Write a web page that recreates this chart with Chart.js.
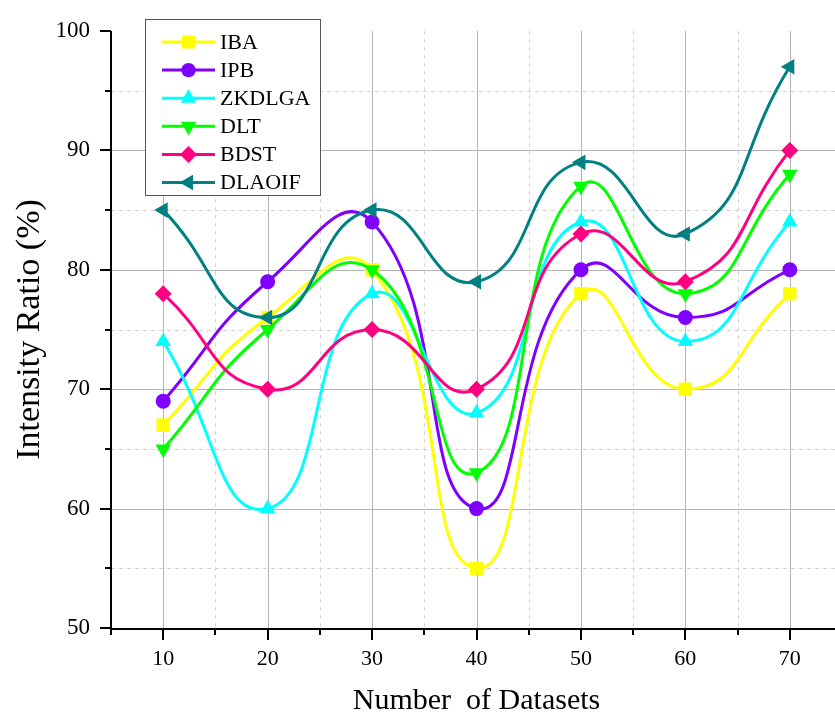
<!DOCTYPE html>
<html><head><meta charset="utf-8">
<script src="https://cdn.jsdelivr.net/npm/chart.js@4/dist/chart.umd.min.js"></script>
<style>
html,body{margin:0;padding:0;overflow:hidden;background:#fff;width:835px;height:716px}
#wrap{width:845px;height:716px;position:relative}
canvas{display:block}
</style></head>
<body><div id="wrap"><canvas id="c" width="845" height="716"></canvas></div>
<script>
// ---- data ----
const xValues = [10, 20, 30, 40, 50, 60, 70];
const seriesNames = ['IBA', 'IPB', 'ZKDLGA', 'DLT', 'BDST', 'DLAOIF'];
const IBA    = [67, 76, 80, 55, 78, 70, 78];
const IPB    = [69, 79, 84, 60, 80, 76, 80];
const ZKDLGA = [74, 60, 78, 68, 84, 74, 84];
const DLT    = [65, 75, 80, 63, 87, 78, 88];
const BDST   = [78, 70, 75, 70, 83, 79, 90];
const DLAOIF = [85, 76, 85, 79, 89, 83, 97];
const xTickLabels = [10, 20, 30, 40, 50, 60, 70];
const xMinorTicks = [5, 15, 25, 35, 45, 55, 65, 75];
const yTickLabels = [50, 60, 70, 80, 90, 100];
const yMinorTicks = [55, 65, 75, 85, 95];
const xTitle = 'Number  of Datasets';
const yTitle = 'Intensity Ratio (%)';

// ---- styles ----
const seriesValues = [IBA, IPB, ZKDLGA, DLT, BDST, DLAOIF];
const colors = ['#ffff00', '#8000ff', '#00ffff', '#00ff00', '#ff0080', '#008080'];
const shapes = ['rect', 'circle', 'triangle', 'triangleDown', 'rectRot', 'triangleLeft'];
const serif = "'Liberation Serif', 'Times New Roman', serif";

function pointStyleFor(s) {
  if (s === 'triangleDown' || s === 'triangleLeft') return 'triangle';
  return s;
}
function rotationFor(s) {
  if (s === 'triangleDown') return 180;
  if (s === 'triangleLeft') return -90;
  return 0;
}
function radiusFor(s) {
  if (s === 'rect') return 9.5;
  if (s === 'circle') return 7.5;
  if (s === 'rectRot') return 8.5;
  return 9;
}

const datasets = seriesNames.map((name, i) => ({
  label: name,
  data: xValues.map((x, j) => ({x: x, y: seriesValues[i][j]})),
  borderColor: colors[i],
  backgroundColor: colors[i],
  borderWidth: 3,
  pointStyle: pointStyleFor(shapes[i]),
  rotation: rotationFor(shapes[i]),
  pointRadius: radiusFor(shapes[i]),
  pointBorderWidth: 0,
  pointBackgroundColor: colors[i],
  pointBorderColor: colors[i],
  tension: 0.52,
  fill: false,
  order: seriesNames.length - i
}));

function drawMarker(ctx, shape, x, y, color) {
  ctx.save();
  ctx.fillStyle = color;
  ctx.beginPath();
  if (shape === 'rect') {
    ctx.rect(x - 6.5, y - 6.5, 13, 13);
  } else if (shape === 'circle') {
    ctx.arc(x, y, 7.2, 0, Math.PI * 2);
  } else if (shape === 'rectRot') {
    ctx.moveTo(x, y - 8.5); ctx.lineTo(x + 8.5, y); ctx.lineTo(x, y + 8.5); ctx.lineTo(x - 8.5, y);
  } else {
    const r = 9;
    let ang = -Math.PI / 2;
    if (shape === 'triangleDown') ang = Math.PI / 2;
    if (shape === 'triangleLeft') ang = Math.PI;
    for (let k = 0; k < 3; k++) {
      const a = ang + k * 2 * Math.PI / 3;
      const px = x + r * Math.cos(a), py = y + r * Math.sin(a);
      if (k === 0) ctx.moveTo(px, py); else ctx.lineTo(px, py);
    }
  }
  ctx.closePath();
  ctx.fill();
  ctx.restore();
}

const framePlugin = {
  id: 'frame',
  beforeDatasetsDraw(chart) {
    const {ctx, chartArea: a, scales: {x, y}} = chart;
    ctx.save();
    ctx.lineWidth = 1;
    ctx.strokeStyle = '#d4d4d4';
    ctx.setLineDash([4, 4]);
    xMinorTicks.forEach(v => {
      if (v <= x.min) return;
      const px = Math.round(x.getPixelForValue(v)) + 0.5;
      ctx.beginPath(); ctx.moveTo(px, a.top); ctx.lineTo(px, a.bottom); ctx.stroke();
    });
    yMinorTicks.forEach(v => {
      const py = Math.round(y.getPixelForValue(v)) + 0.5;
      ctx.beginPath(); ctx.moveTo(a.left, py); ctx.lineTo(a.right, py); ctx.stroke();
    });
    ctx.setLineDash([]);
    ctx.strokeStyle = '#b4b4b4';
    xTickLabels.forEach(v => {
      const px = Math.round(x.getPixelForValue(v)) + 0.5;
      ctx.beginPath(); ctx.moveTo(px, a.top); ctx.lineTo(px, a.bottom); ctx.stroke();
    });
    yTickLabels.forEach(v => {
      if (v <= y.min || v >= y.max) return;
      const py = Math.round(y.getPixelForValue(v)) + 0.5;
      ctx.beginPath(); ctx.moveTo(a.left, py); ctx.lineTo(a.right, py); ctx.stroke();
    });
    ctx.restore();
  },
  afterDatasetsDraw(chart) {
    const {ctx, chartArea: a, scales: {x, y}} = chart;
    ctx.save();
    ctx.strokeStyle = '#000';
    ctx.lineWidth = 2;
    ctx.beginPath(); ctx.moveTo(a.left, a.top); ctx.lineTo(a.left, a.bottom + 1); ctx.lineTo(a.right, a.bottom + 1); ctx.stroke();
    yTickLabels.forEach(v => {
      const py = Math.round(y.getPixelForValue(v));
      ctx.beginPath(); ctx.moveTo(a.left - 11, py); ctx.lineTo(a.left, py); ctx.stroke();
    });
    yMinorTicks.forEach(v => {
      const py = Math.round(y.getPixelForValue(v));
      ctx.beginPath(); ctx.moveTo(a.left - 6, py); ctx.lineTo(a.left, py); ctx.stroke();
    });
    xTickLabels.forEach(v => {
      const px = Math.round(x.getPixelForValue(v));
      ctx.beginPath(); ctx.moveTo(px, a.bottom); ctx.lineTo(px, a.bottom + 12); ctx.stroke();
    });
    xMinorTicks.forEach(v => {
      const px = Math.round(x.getPixelForValue(v));
      ctx.beginPath(); ctx.moveTo(px, a.bottom); ctx.lineTo(px, a.bottom + 7); ctx.stroke();
    });
    // legend
    const bx = 145.5, by = 19.5, bw = 175, bh = 176;
    ctx.fillStyle = '#fff';
    ctx.fillRect(bx, by, bw, bh);
    ctx.strokeStyle = '#555';
    ctx.lineWidth = 1;
    ctx.strokeRect(bx, by, bw, bh);
    ctx.font = '22px ' + serif;
    ctx.textBaseline = 'middle';
    ctx.textAlign = 'left';
    seriesNames.forEach((name, i) => {
      const cy = 42 + i * 28.1;
      ctx.strokeStyle = colors[i];
      ctx.lineWidth = 3;
      ctx.beginPath(); ctx.moveTo(162, cy); ctx.lineTo(215, cy); ctx.stroke();
      drawMarker(ctx, shapes[i], 188.5, cy, colors[i]);
      ctx.fillStyle = '#000';
      ctx.fillText(name, 220, cy + 1);
    });
    ctx.restore();
  }
};

new Chart(document.getElementById('c'), {
  type: 'line',
  data: {datasets: datasets},
  options: {
    responsive: false,
    animation: false,
    devicePixelRatio: 1,
    layout: {autoPadding: false, padding: {top: 31, right: 3, left: 0, bottom: 0}},
    plugins: {legend: {display: false}, tooltip: {enabled: false}},
    scales: {
      x: {
        type: 'linear', min: 5, max: 75,
        afterBuildTicks: s => { s.ticks = xTickLabels.map(v => ({value: v})); },
        afterFit: s => { s.height = 88; s.paddingLeft = 0; s.paddingRight = 0; },
        grid: {display: false, drawTicks: false},
        border: {display: false},
        ticks: {font: {family: serif, size: 22}, color: '#000', padding: 18, maxRotation: 0, autoSkip: false},
        title: {display: true, text: xTitle, font: {family: serif, size: 30, lineHeight: 1}, color: '#000', padding: {top: 0, bottom: 0}}
      },
      y: {
        type: 'linear', min: 50, max: 100,
        afterBuildTicks: s => { s.ticks = yTickLabels.map(v => ({value: v})); },
        afterFit: s => { s.width = 111; s.paddingTop = 0; s.paddingBottom = 0; },
        grid: {display: false, drawTicks: false},
        border: {display: false},
        ticks: {font: {family: serif, size: 23}, color: '#000', padding: 21},
        title: {display: true, text: yTitle, font: {family: serif, size: 34, lineHeight: 1}, color: '#000', padding: {top: 13, bottom: 0}}
      }
    }
  },
  plugins: [framePlugin]
});
</script>
</body></html>
